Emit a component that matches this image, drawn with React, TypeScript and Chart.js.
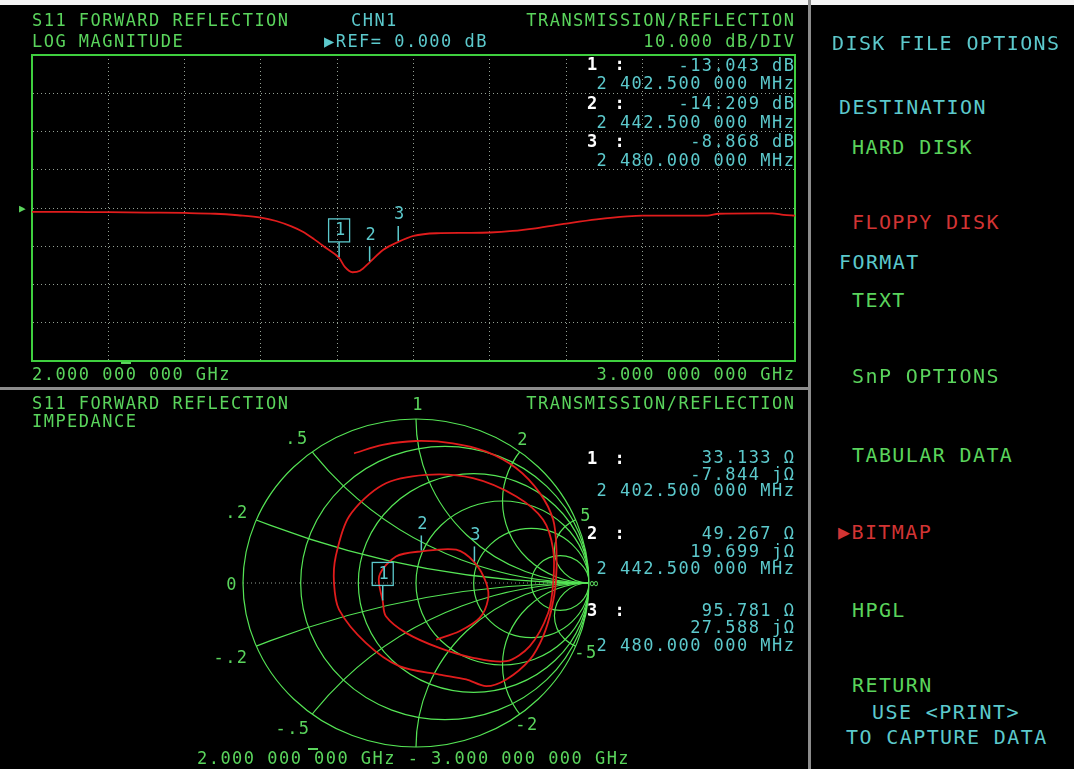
import React, { useEffect, useRef } from "react";
import { Chart, registerables } from "chart.js";
Chart.register(...registerables);

const W = 1074;
const H = 769;
const FONT = '"DejaVu Sans Mono", monospace';

// ---------------- data ----------------
const freqGHz = [2.0, 2.05, 2.1, 2.15, 2.2, 2.24, 2.27, 2.3, 2.32, 2.34, 2.355, 2.37, 2.385, 2.4025, 2.41, 2.42, 2.43, 2.4425, 2.46, 2.48, 2.5, 2.53, 2.57, 2.6, 2.63, 2.66, 2.7, 2.74, 2.78, 2.8, 2.84, 2.885, 2.9, 2.95, 2.97, 2.985, 3.0];
const magDb = [-1.0, -1.0, -1.1, -1.2, -1.3, -1.5, -1.9, -2.5, -3.4, -4.8, -6.2, -8.2, -10.4, -13.04, -15.4, -16.8, -16.4, -14.21, -11.0, -8.87, -7.3, -6.6, -6.5, -6.4, -6.0, -5.3, -4.1, -3.0, -2.2, -2.0, -2.0, -2.0, -1.5, -1.4, -1.4, -1.8, -2.0];

const markerIds = ["1", "2", "3"];
const markerFreqMHz = [2402.5, 2442.5, 2480.0];
const markerDb = [-13.043, -14.209, -8.868];
const markerR = [33.133, 49.267, 95.781];
const markerX = [-7.844, 19.699, 27.588];
const activeMarker = 0;
const Z0 = 50;

const smithRe = [-0.358, -0.193, 0.0, 0.213, 0.406, 0.58, 0.716, 0.793, 0.812, 0.808, 0.783, 0.735, 0.658, 0.522, 0.406, 0.29, 0.135, -0.097, -0.29, -0.445, -0.474, -0.464, -0.387, -0.193, 0.058, 0.329, 0.58, 0.735, 0.793, 0.793, 0.764, 0.658, 0.522, 0.329, 0.135, -0.058, -0.174, -0.192, -0.213, -0.116, 0.031, 0.232, 0.338, 0.406, 0.416, 0.368, 0.251, 0.116];
const smithIm = [0.791, 0.842, 0.866, 0.852, 0.801, 0.7, 0.548, 0.385, 0.203, 0.0, -0.162, -0.325, -0.467, -0.588, -0.629, -0.588, -0.558, -0.507, -0.365, -0.162, 0.0, 0.162, 0.406, 0.598, 0.659, 0.639, 0.527, 0.385, 0.203, 0.0, -0.183, -0.385, -0.477, -0.456, -0.396, -0.304, -0.203, -0.112, 0.041, 0.162, 0.193, 0.203, 0.126, 0.0, -0.101, -0.213, -0.294, -0.345];

const smithRCircles = [0.2, 0.5, 1, 2, 5];
const smithXArcs = [0.2, 0.5, 1, 2, 5];

const freqMin = 2.0;
const freqMax = 3.0;
const freqStep = 0.1;
const dbMin = -40;
const dbMax = 40;
const dbStep = 10;

// ---------------- styles ----------------
const GREEN = "#5ad45c";
const CYAN = "#5cc9cc";
const RED = "#d23434";
const WHITE = "#ffffff";
const FRAME = "#3fcf3f";
const SGRID = "#55e455";
const TRACE = "#e01c1c";
const DOT = "rgba(185,200,185,0.8)";

function drawMarker(ctx: CanvasRenderingContext2D, xp: number, yp: number, id: string, active: boolean) {
  ctx.save();
  ctx.strokeStyle = CYAN;
  ctx.fillStyle = CYAN;
  ctx.lineWidth = 1.5;
  ctx.beginPath();
  ctx.moveTo(xp, yp - 16);
  ctx.lineTo(xp, yp - 1);
  ctx.stroke();
  ctx.font = '17px "DejaVu Sans Mono"';
  ctx.textAlign = "center";
  ctx.textBaseline = "middle";
  ctx.fillText(id, xp + 1, yp - 27);
  if (active) {
    ctx.lineWidth = 1.3;
    ctx.strokeRect(xp - 10.5, yp - 39, 21, 23);
  }
  ctx.restore();
}

const topMarkerPlugin = {
  id: "topMarkers",
  afterDatasetsDraw(chart: any) {
    const { ctx, scales } = chart;
    markerIds.forEach((id, i) => {
      const xp = scales.x.getPixelForValue(markerFreqMHz[i] / 1000);
      const yp = scales.y.getPixelForValue(markerDb[i]);
      drawMarker(ctx, xp, yp, id, i === activeMarker);
    });
  },
};

function gammaOf(r: number, x: number) {
  const zr = r / Z0;
  const zi = x / Z0;
  const dr = zr + 1;
  const di = zi;
  const nr = zr - 1;
  const ni = zi;
  const den = dr * dr + di * di;
  return { re: (nr * dr + ni * di) / den, im: (ni * dr - nr * di) / den };
}

const smithGridPlugin = {
  id: "smithGrid",
  beforeDatasetsDraw(chart: any) {
    const { ctx, scales } = chart;
    const sx = scales.x;
    const sy = scales.y;
    const cx = sx.getPixelForValue(0);
    const cy = sy.getPixelForValue(0);
    const rx = sx.getPixelForValue(1) - cx;
    const ry = cy - sy.getPixelForValue(1);
    const ell = (gr: number, gi: number, rad: number) => {
      ctx.beginPath();
      ctx.ellipse(sx.getPixelForValue(gr), sy.getPixelForValue(gi), rad * rx, rad * ry, 0, 0, Math.PI * 2);
      ctx.stroke();
    };
    ctx.save();
    ctx.strokeStyle = DOT;
    ctx.lineWidth = 1;
    ctx.setLineDash([1, 3]);
    ctx.beginPath();
    ctx.moveTo(cx - rx, cy);
    ctx.lineTo(cx + rx, cy);
    ctx.stroke();
    ctx.setLineDash([]);
    ctx.strokeStyle = SGRID;
    ctx.lineWidth = 1.2;
    ell(0, 0, 1);
    ctx.beginPath();
    ctx.ellipse(cx, cy, rx, ry, 0, 0, Math.PI * 2);
    ctx.clip();
    smithRCircles.forEach((r) => ell(r / (1 + r), 0, 1 / (1 + r)));
    smithXArcs.forEach((x) => {
      ell(1, 1 / x, 1 / x);
      ell(1, -1 / x, 1 / x);
    });
    ctx.restore();
  },
  afterDatasetsDraw(chart: any) {
    const { ctx, scales } = chart;
    markerIds.forEach((id, i) => {
      const g = gammaOf(markerR[i], markerX[i]);
      const xp = scales.x.getPixelForValue(g.re);
      const yp = scales.y.getPixelForValue(g.im);
      drawMarker(ctx, xp, yp, id, i === activeMarker);
    });
  },
};

type TI = { t: string; x: number; y: number; c: string; a?: "l" | "r" | "c"; s?: number; ls?: number; b?: boolean };

const MAIN = 17;
const MLS = 1.47;
const MENU = 20;
const MENULS = 1.4;

const texts: TI[] = [
  { t: "S11 FORWARD REFLECTION", x: 32, y: 19.5, c: GREEN },
  { t: "CHN1", x: 351, y: 19.5, c: CYAN },
  { t: "TRANSMISSION/REFLECTION", x: 794, y: 19.5, c: GREEN, a: "r" },
  { t: "LOG MAGNITUDE", x: 32, y: 41, c: GREEN },
  { t: "\u25B6REF= 0.000 dB", x: 324, y: 41, c: CYAN },
  { t: "10.000 dB/DIV", x: 794, y: 41, c: GREEN, a: "r" },
  { t: "1 :", x: 587, y: 64, c: WHITE, b: true, ls: 3.5 },
  { t: "-13.043 dB", x: 794, y: 65, c: CYAN, a: "r" },
  { t: "2 402.500 000 MHz", x: 794, y: 83, c: CYAN, a: "r" },
  { t: "2 :", x: 587, y: 103, c: WHITE, b: true, ls: 3.5 },
  { t: "-14.209 dB", x: 794, y: 103, c: CYAN, a: "r" },
  { t: "2 442.500 000 MHz", x: 794, y: 121.5, c: CYAN, a: "r" },
  { t: "3 :", x: 587, y: 141, c: WHITE, b: true, ls: 3.5 },
  { t: "-8.868 dB", x: 794, y: 141, c: CYAN, a: "r" },
  { t: "2 480.000 000 MHz", x: 794, y: 160, c: CYAN, a: "r" },
  { t: "\u25B6", x: 19, y: 208, c: GREEN, s: 11, ls: 0 },
  { t: "2.000 000 000 GHz", x: 32, y: 374, c: GREEN },
  { t: "3.000 000 000 GHz", x: 794, y: 374, c: GREEN, a: "r" },
  { t: "S11 FORWARD REFLECTION", x: 32, y: 403, c: GREEN },
  { t: "1", x: 418, y: 404, c: GREEN, a: "c" },
  { t: "TRANSMISSION/REFLECTION", x: 794, y: 403, c: GREEN, a: "r" },
  { t: "IMPEDANCE", x: 32, y: 421, c: GREEN },
  { t: ".5", x: 297, y: 438, c: GREEN, a: "c" },
  { t: ".2", x: 237, y: 512, c: GREEN, a: "c" },
  { t: "0", x: 232, y: 584, c: GREEN, a: "c" },
  { t: "-.2", x: 231, y: 657, c: GREEN, a: "c" },
  { t: "-.5", x: 293, y: 728, c: GREEN, a: "c" },
  { t: "2", x: 523, y: 439, c: GREEN, a: "c" },
  { t: "5", x: 586, y: 515, c: GREEN, a: "c" },
  { t: "\u221E", x: 594, y: 583, c: GREEN, a: "c", s: 14, ls: 0 },
  { t: "-5", x: 586, y: 652, c: GREEN, a: "c" },
  { t: "-2", x: 527, y: 724, c: GREEN, a: "c" },
  { t: "1 :", x: 587, y: 458, c: WHITE, b: true, ls: 3.5 },
  { t: "33.133 \u03A9", x: 794, y: 457, c: CYAN, a: "r" },
  { t: "-7.844 j\u03A9", x: 794, y: 474, c: CYAN, a: "r" },
  { t: "2 402.500 000 MHz", x: 794, y: 490, c: CYAN, a: "r" },
  { t: "2 :", x: 587, y: 533, c: WHITE, b: true, ls: 3.5 },
  { t: "49.267 \u03A9", x: 794, y: 533, c: CYAN, a: "r" },
  { t: "19.699 j\u03A9", x: 794, y: 551, c: CYAN, a: "r" },
  { t: "2 442.500 000 MHz", x: 794, y: 568, c: CYAN, a: "r" },
  { t: "3 :", x: 587, y: 610, c: WHITE, b: true, ls: 3.5 },
  { t: "95.781 \u03A9", x: 794, y: 610, c: CYAN, a: "r" },
  { t: "27.588 j\u03A9", x: 794, y: 627, c: CYAN, a: "r" },
  { t: "2 480.000 000 MHz", x: 794, y: 645, c: CYAN, a: "r" },
  { t: "2.000 000 000 GHz - 3.000 000 000 GHz", x: 197, y: 758, c: GREEN },
  { t: "DISK FILE OPTIONS", x: 832, y: 43, c: CYAN, s: MENU, ls: MENULS },
  { t: "DESTINATION", x: 839, y: 107, c: CYAN, s: MENU, ls: MENULS },
  { t: "HARD DISK", x: 852, y: 147, c: GREEN, s: MENU, ls: MENULS },
  { t: "FLOPPY DISK", x: 852, y: 222, c: RED, s: MENU, ls: MENULS },
  { t: "FORMAT", x: 839, y: 262, c: CYAN, s: MENU, ls: MENULS },
  { t: "TEXT", x: 852, y: 300, c: GREEN, s: MENU, ls: MENULS },
  { t: "SnP OPTIONS", x: 852, y: 376, c: GREEN, s: MENU, ls: MENULS },
  { t: "TABULAR DATA", x: 852, y: 455, c: GREEN, s: MENU, ls: MENULS },
  { t: "\u25B6BITMAP", x: 838, y: 532, c: RED, s: MENU, ls: MENULS },
  { t: "HPGL", x: 852, y: 610, c: GREEN, s: MENU, ls: MENULS },
  { t: "RETURN", x: 852, y: 685, c: GREEN, s: MENU, ls: MENULS },
  { t: "USE <PRINT>", x: 872, y: 712, c: CYAN, s: MENU, ls: MENULS },
  { t: "TO CAPTURE DATA", x: 846, y: 737, c: CYAN, s: MENU, ls: MENULS },
];

function Txt({ it }: { it: TI }) {
  const s = it.s ?? MAIN;
  const ls = it.ls ?? MLS;
  const a = it.a ?? "l";
  const style: React.CSSProperties = {
    position: "absolute",
    top: it.y,
    color: it.c,
    fontFamily: FONT,
    fontSize: s,
    letterSpacing: ls,
    whiteSpace: "pre",
    lineHeight: 1,
    fontWeight: it.b ? "bold" : "normal",
    zIndex: 5,
  };
  if (a === "l") {
    style.left = it.x;
    style.transform = "translateY(-50%)";
  } else if (a === "r") {
    style.right = W - it.x - ls;
    style.transform = "translateY(-50%)";
  } else {
    style.left = it.x;
    style.transform = "translate(-50%, -50%)";
  }
  return <div style={style}>{it.t}</div>;
}

export default function App() {
  const topRef = useRef<HTMLCanvasElement>(null);
  const botRef = useRef<HTMLCanvasElement>(null);

  useEffect(() => {
    document.body.style.margin = "0";
    document.body.style.background = "#000";
    const top = new Chart(topRef.current as HTMLCanvasElement, {
      type: "scatter",
      data: {
        datasets: [
          {
            data: freqGHz.map((f, i) => ({ x: f, y: magDb[i] })),
            showLine: true,
            borderColor: TRACE,
            borderWidth: 1.8,
            pointRadius: 0,
            cubicInterpolationMode: "monotone",
          } as any,
        ],
      },
      options: {
        animation: false,
        responsive: false,
        events: [],
        layout: { padding: { left: 32, top: 55, right: 13, bottom: 27 } },
        plugins: { legend: { display: false }, tooltip: { enabled: false } },
        scales: {
          x: {
            type: "linear",
            min: freqMin,
            max: freqMax,
            ticks: { display: false, stepSize: freqStep },
            grid: { color: DOT, lineWidth: 1, drawTicks: false },
            border: { color: FRAME, width: 2, dash: [1, 3] },
          },
          y: {
            type: "linear",
            min: dbMin,
            max: dbMax,
            ticks: { display: false, stepSize: dbStep },
            grid: { color: DOT, lineWidth: 1, drawTicks: false },
            border: { color: FRAME, width: 2, dash: [1, 3] },
          },
          xTop: {
            type: "linear",
            position: "top",
            ticks: { display: false },
            grid: { display: false, drawTicks: false },
            border: { color: FRAME, width: 2 },
          },
          yRight: {
            type: "linear",
            position: "right",
            ticks: { display: false },
            grid: { display: false, drawTicks: false },
            border: { color: FRAME, width: 2 },
          },
        },
      } as any,
      plugins: [topMarkerPlugin],
    });

    const bot = new Chart(botRef.current as HTMLCanvasElement, {
      type: "scatter",
      data: {
        datasets: [
          {
            data: smithRe.map((r, i) => ({ x: r, y: smithIm[i] })),
            showLine: true,
            borderColor: TRACE,
            borderWidth: 1.8,
            pointRadius: 0,
            tension: 0.3,
          } as any,
        ],
      },
      options: {
        animation: false,
        responsive: false,
        events: [],
        layout: { padding: { left: 243, top: 29, right: 219, bottom: 22 } },
        plugins: { legend: { display: false }, tooltip: { enabled: false } },
        scales: {
          x: { type: "linear", min: -1, max: 1, display: false },
          y: { type: "linear", min: -1, max: 1, display: false },
        },
      } as any,
      plugins: [smithGridPlugin],
    });

    return () => {
      top.destroy();
      bot.destroy();
    };
  }, []);

  return (
    <div style={{ position: "fixed", left: 0, top: 0, width: W, height: H, background: "#000", overflow: "hidden" }}>
      <canvas ref={topRef} width={808} height={388} style={{ position: "absolute", left: 0, top: 0, width: 808, height: 388 }} />
      <canvas ref={botRef} width={808} height={379} style={{ position: "absolute", left: 0, top: 390, width: 808, height: 379 }} />
      <div style={{ position: "absolute", left: 0, top: 0, width: W, height: 5, background: "#f4f4f4" }} />
      <div style={{ position: "absolute", left: 808, top: 0, width: 3, height: H, background: "#8c8c8c" }} />
      <div style={{ position: "absolute", left: 0, top: 387, width: 808, height: 3, background: "#8c8c8c" }} />
      <div style={{ position: "absolute", left: 121, top: 362, width: 10, height: 2, background: GREEN }} />
      <div style={{ position: "absolute", left: 308, top: 748, width: 10, height: 2, background: GREEN }} />
      {texts.map((it, i) => (
        <Txt key={i} it={it} />
      ))}
    </div>
  );
}
